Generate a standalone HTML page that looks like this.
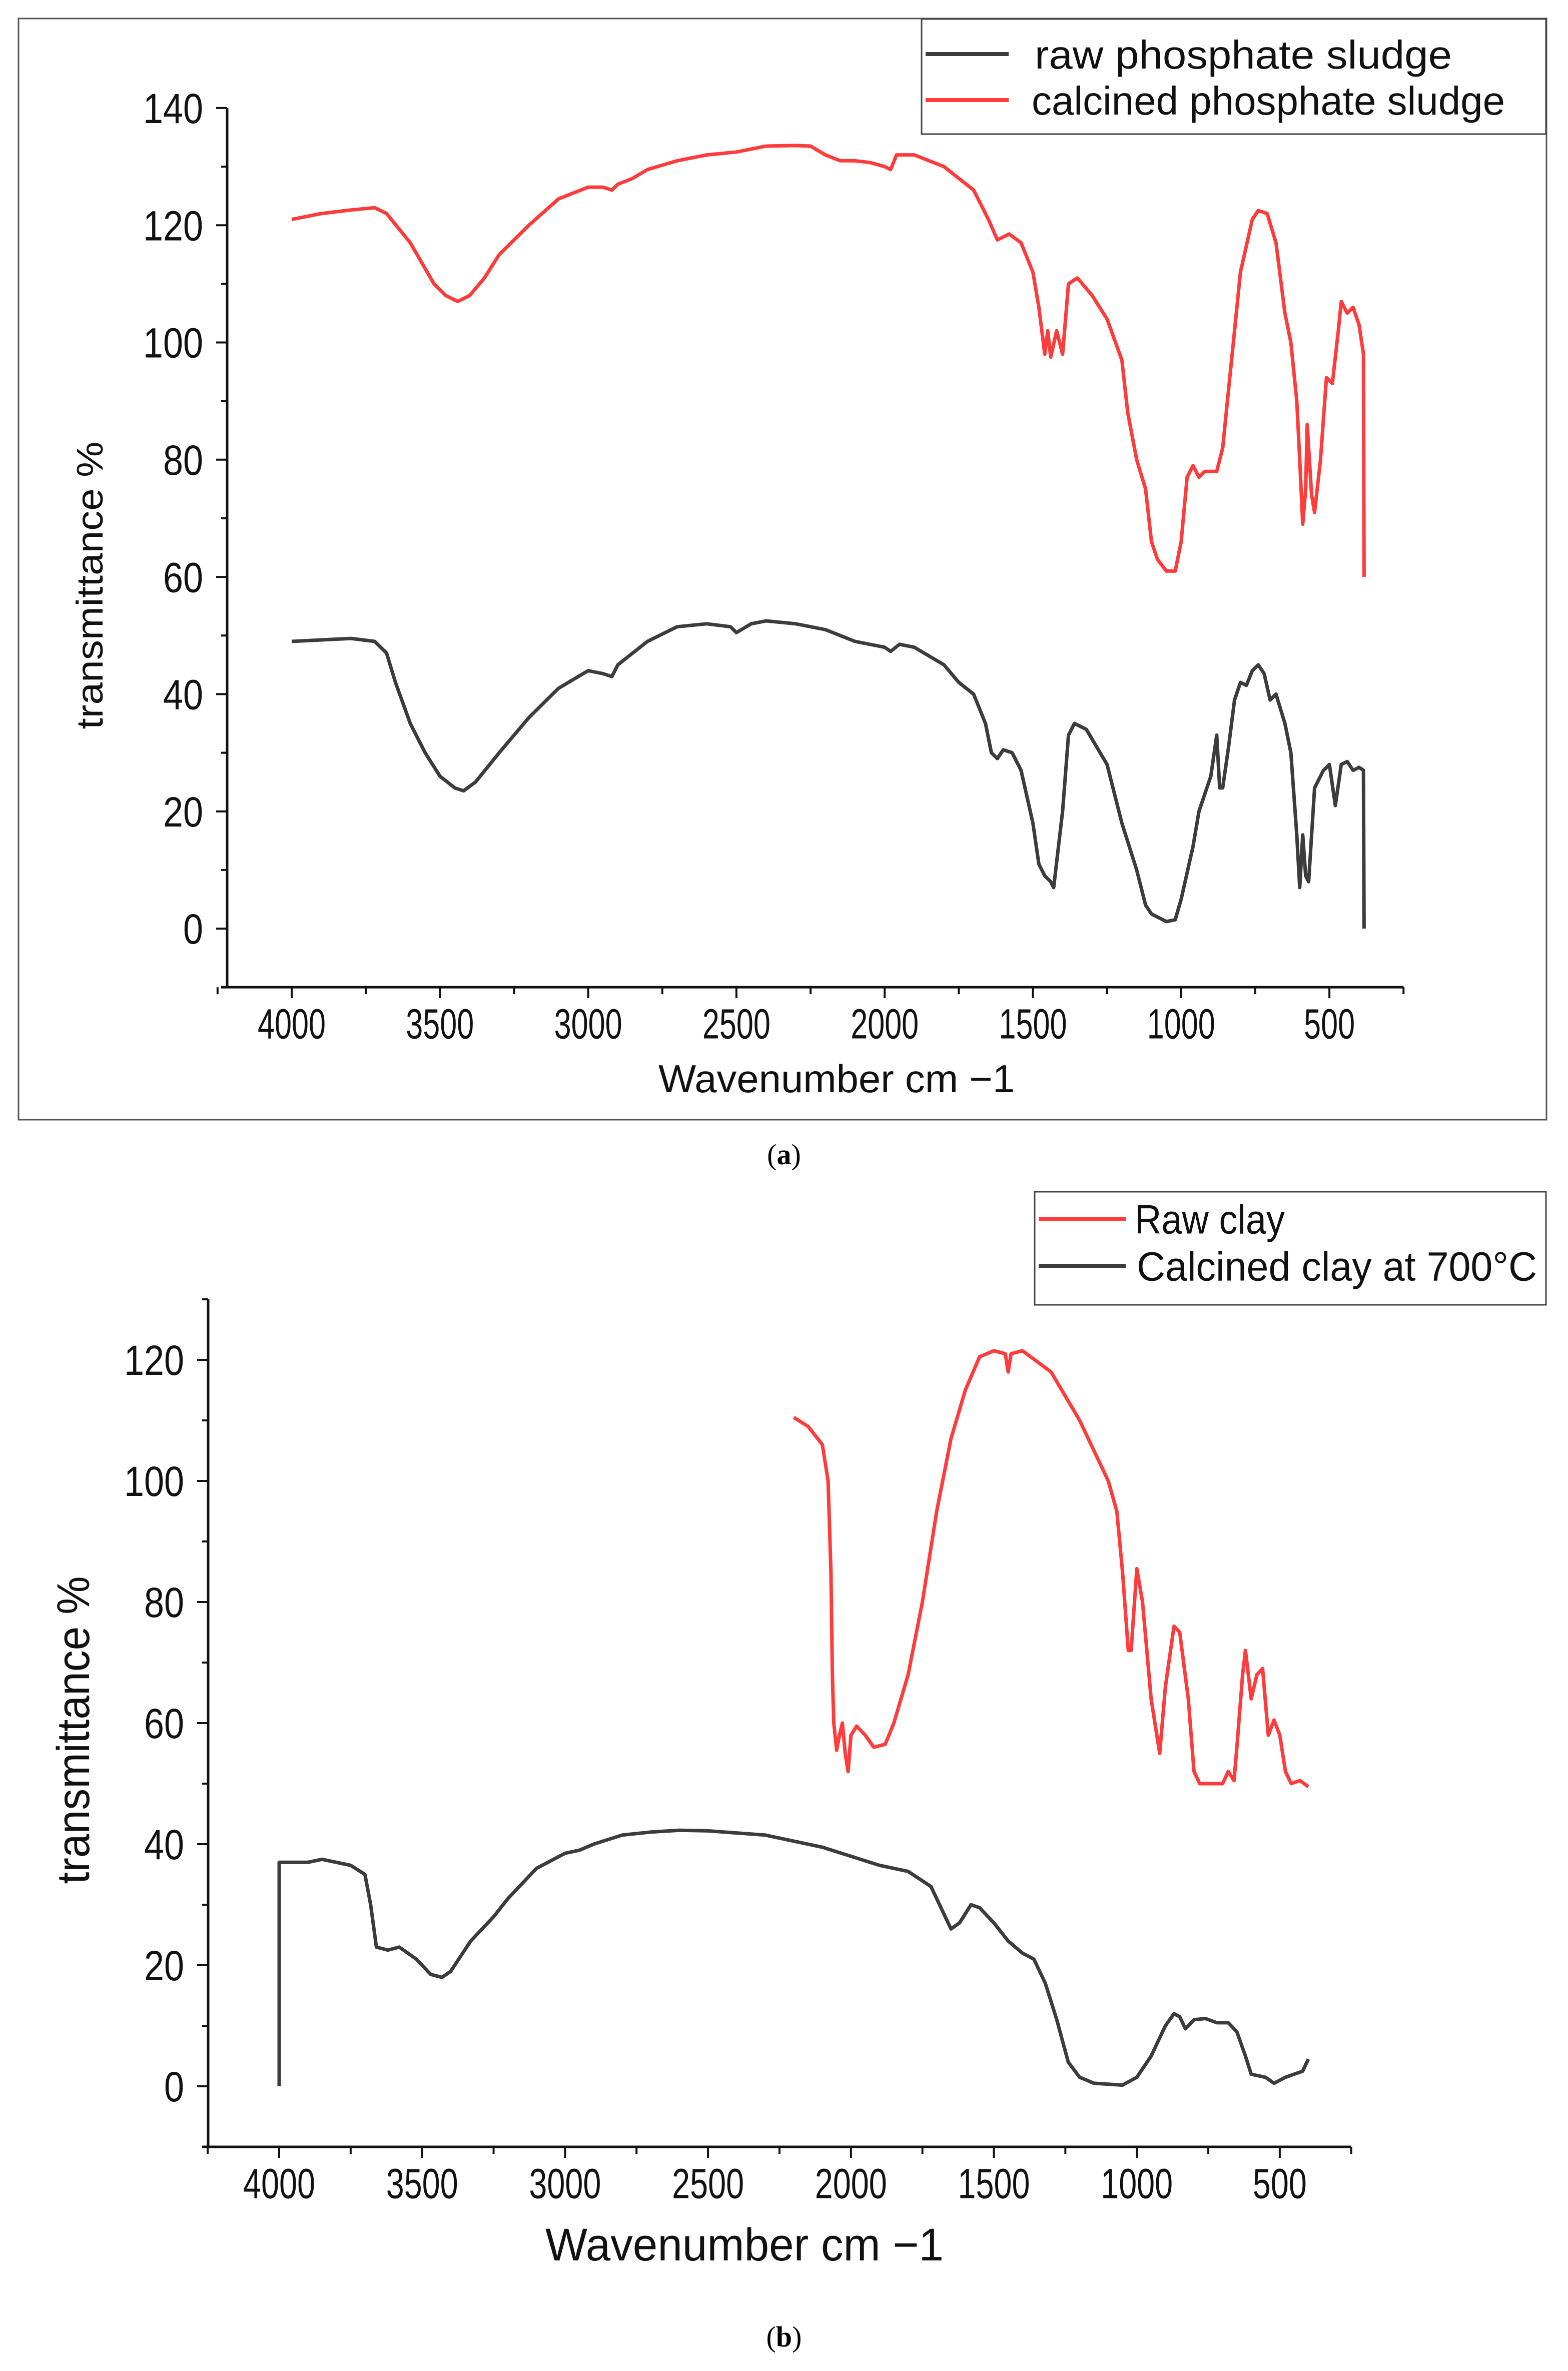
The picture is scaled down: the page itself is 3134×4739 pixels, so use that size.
<!DOCTYPE html>
<html><head><meta charset="utf-8"><style>
html,body{margin:0;padding:0;background:#fff;}
svg{display:block;font-family:"Liberation Sans",Arial,sans-serif;}
</style></head><body>
<svg id="fig" width="3134" height="4739" viewBox="0 0 3134 4739" xmlns="http://www.w3.org/2000/svg">
<rect x="0" y="0" width="3134" height="4739" fill="#fff"/>
<rect x="37" y="37" width="3054" height="2201" fill="none" stroke="#555" stroke-width="3"/>
<g id="pa"></g>
<g id="pb"></g>
<text x="1567" y="2327" font-family="Liberation Serif,serif" font-size="58" text-anchor="middle">(<tspan font-weight="bold">a</tspan>)</text>
<text x="1567" y="4690" font-family="Liberation Serif,serif" font-size="58" text-anchor="middle">(<tspan font-weight="bold">b</tspan>)</text>
</svg>
<script>
const aRawWn=[4000,3800,3720,3680,3650,3600,3550,3500,3450,3420,3380,3300,3200,3100,3000,2950,2920,2900,2850,2800,2700,2600,2520,2500,2450,2400,2300,2200,2100,2000,1980,1950,1900,1800,1750,1700,1660,1640,1620,1600,1570,1540,1500,1480,1460,1440,1430,1400,1380,1360,1320,1250,1200,1150,1120,1100,1050,1020,1000,960,940,900,880,870,860,840,820,800,780,760,740,720,700,680,650,630,610,600,590,580,570,550,520,500,480,460,440,420,400,385,383];
const aRawT=[49,49.5,49,47,42,35,30,26,24,23.5,25,30,36,41,44,43.5,43,45,47,49,51.5,52,51.5,50.5,52,52.5,52,51,49,48,47.3,48.5,48,45,42,40,35,30,29,30.5,30,27,18,11,9,8,7,20,33,35,34,28,18,10,4,2.5,1.2,1.5,5,14,20,26,33,24,24,31,39,42,41.5,44,45,43.5,39,40,35,30,16,7,16,9,8,24,27,28,21,28,28.5,27,27.5,27,0];
const aCalWn=[4000,3900,3800,3720,3680,3600,3520,3480,3440,3400,3350,3300,3200,3100,3000,2950,2920,2900,2850,2800,2700,2600,2500,2450,2400,2300,2250,2200,2150,2100,2050,2000,1980,1960,1900,1800,1750,1700,1650,1620,1580,1540,1500,1480,1460,1450,1440,1420,1400,1380,1350,1300,1250,1200,1180,1150,1120,1100,1080,1050,1020,1000,980,960,940,920,880,860,840,820,800,760,740,710,680,650,630,610,600,590,580,575,560,550,530,510,490,470,460,440,420,400,385,383];
const aCalT=[121,122,122.6,123,122,117,110,108,107,108,111,115,120,124.5,126.5,126.5,126,127,128,129.5,131,132,132.5,133,133.5,133.6,133.5,132,131,131,130.7,130,129.5,132,132,130,128,126,121,117.5,118.5,117,112,106,98,102,97.5,102,98,110,111,108,104,97,88,80,75,66,63,61,61,66,77,79,77,78,78,82,92,102,112,121,122.5,122,117,105,100,90,80,69,75,86,74,71,80,94,93,102,107,105,106,103,98,60];
const bRawWn=[2200,2150,2100,2080,2070,2065,2060,2050,2040,2030,2020,2010,2000,1980,1950,1920,1880,1850,1800,1750,1700,1650,1600,1550,1500,1460,1450,1440,1400,1300,1200,1100,1070,1050,1030,1020,1000,980,950,920,900,870,850,820,800,780,700,680,660,650,630,620,600,580,560,540,520,500,480,460,430,400];
const bRawT=[110.5,109,106,100,85,68,60,55.5,58,60,55,52,58,59.5,58,56,56.5,60,68,80,95,107,115,120.5,121.5,121,118,121,121.5,118,110,100,95,85,72,72,85.5,80,64,55,66,76,75,64,52,50,50,52,50.5,56,68,72,64,68,69,58,60.5,58,52,50,50.5,49.5];
const bCalWn=[4000,4000,3900,3850,3750,3700,3680,3660,3620,3580,3520,3470,3430,3400,3330,3250,3200,3100,3000,2950,2900,2800,2700,2600,2500,2300,2200,2100,2000,1900,1800,1720,1680,1650,1620,1580,1550,1500,1450,1400,1360,1320,1280,1240,1200,1150,1050,1000,950,900,870,850,830,800,760,720,680,650,620,600,550,520,480,450,420,400];
const bCalT=[0,37,37,37.5,36.5,35,30,23,22.5,23,21,18.5,18,19,24,28,31,36,38.5,39,40,41.5,42,42.3,42.2,41.5,40.5,39.5,38,36.5,35.5,33,29,26,27,30,29.5,27,24,22,21,17,11,4,1.5,0.5,0.2,1.5,5,10,12,11.5,9.5,11,11.2,10.5,10.5,9,5,2,1.5,0.5,1.5,2,2.5,4.5];
const xTicks=[4000,3500,3000,2500,2000,1500,1000,500];
const aYTicks=[0,20,40,60,80,100,120,140];
const bYTicks=[0,20,40,60,80,100,120];

const NS="http://www.w3.org/2000/svg";
function mk(parent,tag,attrs){const e=document.createElementNS(NS,tag);for(const k in attrs)e.setAttribute(k,attrs[k]);parent.appendChild(e);return e;}
const BLACK="#3c3c3c",RED="#ff3b3b";

function panel(g,cfg){
  const X=w=>cfg.x4000+(4000-w)/500*cfg.xStep;
  const Y=v=>cfg.y0-v/20*cfg.yStep;
  const ya=mk(g,'line',{x1:cfg.axL,y1:Y(cfg.yMax),x2:cfg.axL,y2:Y(-10),stroke:'#111','stroke-width':5});
  
  
  const xa=mk(g,'line',{x1:cfg.axL-12,y1:Y(-10),x2:X(cfg.xEnd),y2:Y(-10),stroke:'#111','stroke-width':5});
  
  
  for(let v=-10;v<=cfg.yMax;v+=10){
    const major=v%20===0;
    const t=mk(g,'line',{x1:cfg.axL-(major?22:12),y1:Y(v),x2:cfg.axL,y2:Y(v),stroke:'#111','stroke-width':4});
    
    
  }
  cfg.yTicks.forEach(v=>{
    const s=String(v);
    const t=mk(g,'text',{x:cfg.axL-48,y:Y(v)+cfg.fs*0.36,'font-size':cfg.fs,'text-anchor':'end',fill:'#111',textLength:s.length*cfg.ycw,lengthAdjust:'spacingAndGlyphs'});
    t.textContent=s;
    
    
  });
  for(let w=4250;w>=cfg.xEnd;w-=250){
    const major=w%500===0;
    const t=mk(g,'line',{x1:X(w),y1:Y(-10),x2:X(w),y2:Y(-10)+(major?22:14),stroke:'#111','stroke-width':4});
    
    
  }
  xTicks.forEach(w=>{
    const s=String(w);
    const t=mk(g,'text',{x:X(w),y:Y(-10)+cfg.fs*1.22,'font-size':cfg.fs,'text-anchor':'middle',fill:'#111',textLength:s.length*cfg.xcw,lengthAdjust:'spacingAndGlyphs'});
    t.textContent=s;
    
    
  });
  const xt=mk(g,'text',{x:cfg.xtX,y:cfg.xtY,'font-size':cfg.tfs,fill:'#111',textLength:cfg.xtW,lengthAdjust:'spacingAndGlyphs'});
  xt.textContent='Wavenumber cm \u22121';
  
  
  const yt=mk(g,'text',{x:0,y:0,'font-size':cfg.yfs,fill:'#111','text-anchor':'middle',transform:`translate(${cfg.ytX},${cfg.ytY}) rotate(-90)`,textLength:cfg.ytW,lengthAdjust:'spacingAndGlyphs'});
  yt.textContent=cfg.ytText;
  
  
  cfg.series.forEach(s=>{
    const d=s.wn.map((w,i)=>(i?'L':'M')+X(w).toFixed(1)+','+Y(s.t[i]).toFixed(1)).join('');
    const p=mk(g,'path',{d:d,fill:'none',stroke:s.c,'stroke-width':7,'stroke-linejoin':'round'});
    
    
  });
  const L=cfg.leg;
  const lb=mk(g,'rect',{x:L.x,y:L.y,width:L.w,height:L.h,fill:'#fff',stroke:'#444','stroke-width':3});
  
  
  L.items.forEach(it=>{
    const l=mk(g,'line',{x1:it.lx1,y1:it.y,x2:it.lx2,y2:it.y,stroke:it.c,'stroke-width':8});
    
    
    const t=mk(g,'text',{x:it.tx,y:it.y+L.fs*0.36,'font-size':L.fs,fill:'#111',textLength:it.tw,lengthAdjust:'spacingAndGlyphs'});
    t.textContent=it.text;
    
    
  });
}

panel(document.getElementById('pa'),{
  x4000:583,xStep:296.3,y0:1856,yStep:234.3,yMax:140,axL:454,xEnd:250,fs:84,ycw:40,xcw:34,yTicks:aYTicks,
  tfs:78,xtX:1316,xtY:2183,xtW:712,ytX:205,ytY:1170,ytW:575,yfs:74,ytText:'transmittance  %',
  series:[{wn:aCalWn,t:aCalT,c:RED,name:'calcined-sludge-line'},{wn:aRawWn,t:aRawT,c:BLACK,name:'raw-sludge-line'}],
  leg:{x:1842,y:38,w:1248,h:230,fs:80,items:[
    {lx1:1850,lx2:2016,y:108,c:BLACK,tx:2068,tw:834,text:'raw phosphate sludge'},
    {lx1:1850,lx2:2016,y:200,c:RED,tx:2062,tw:946,text:'calcined phosphate sludge'}]}
});
panel(document.getElementById('pb'),{
  x4000:558,xStep:285.7,y0:4170,yStep:242,yMax:130,axL:416,xEnd:250,fs:84,ycw:40,xcw:36,yTicks:bYTicks,
  tfs:92,xtX:1090,xtY:4518,xtW:796,ytX:178,ytY:3458,ytW:615,yfs:92,ytText:'transmittance %',
  series:[{wn:bRawWn,t:bRawT,c:RED,name:'raw-clay-line'},{wn:bCalWn,t:bCalT,c:BLACK,name:'calcined-clay-line'}],
  leg:{x:2068,y:2382,w:1022,h:226,fs:82,items:[
    {lx1:2076,lx2:2250,y:2436,c:RED,tx:2268,tw:300,text:'Raw clay'},
    {lx1:2076,lx2:2250,y:2530,c:BLACK,tx:2272,tw:800,text:'Calcined clay at 700°C'}]}
});
</script>
</body></html>
